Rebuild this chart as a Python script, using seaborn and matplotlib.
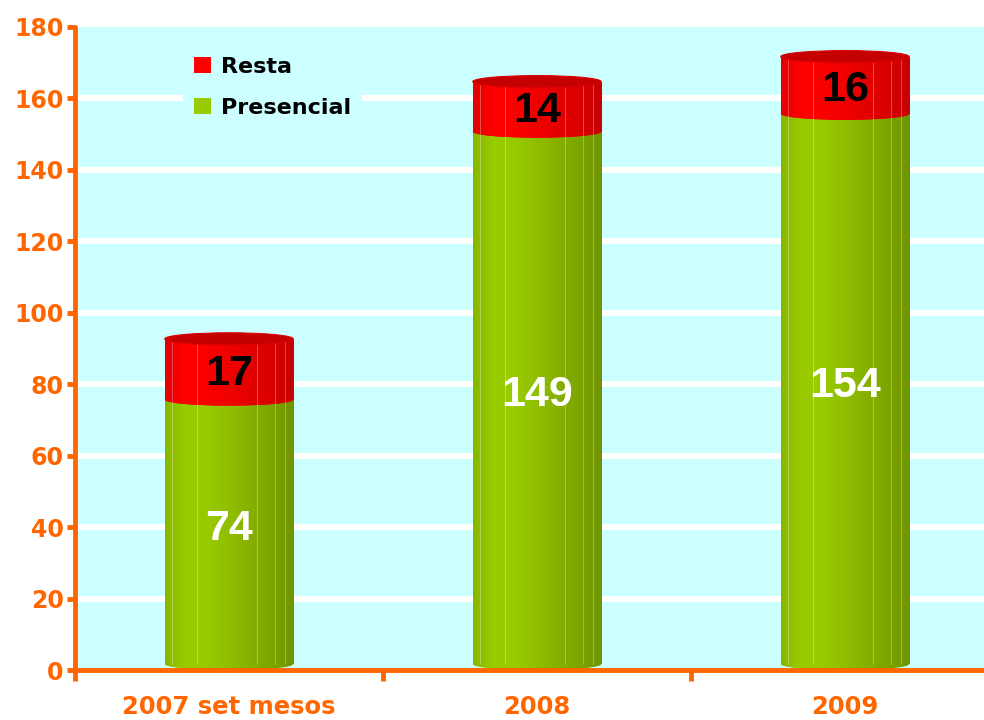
import numpy as np
import pandas as pd
import matplotlib
matplotlib.use("Agg")
import matplotlib.pyplot as plt
import seaborn as sns
from matplotlib.patches import Ellipse, Patch
from matplotlib.colors import LinearSegmentedColormap

categories = ["2007 set mesos", "2008", "2009"]
presencial = [74, 149, 154]
resta = [17, 14, 16]
yticks = [0, 20, 40, 60, 80, 100, 120, 140, 160, 180]

ORANGE = "#FF6600"
CYAN = "#CCFFFF"
GREEN = "#99CC00"
RED = "#FF0000"

sns.set_theme(style="white")
plt.rcParams['font.family'] = ['DejaVu Sans']
plt.rcParams['font.weight'] = 'bold'

df = pd.DataFrame({"cat": categories, "presencial": presencial, "resta": resta})
df["total"] = df["presencial"] + df["resta"]

fig = plt.figure(figsize=(9.84, 7.2), dpi=100)
ax = fig.add_axes([0.0762, 0.0694, 0.939, 0.8931])
ax.set_facecolor(CYAN)

W = 0.417
sns.barplot(data=df, x="cat", y="total", color=RED, width=W, ax=ax,
            saturation=1, edgecolor="none", zorder=3)
sns.barplot(data=df, x="cat", y="presencial", color=GREEN, width=W, ax=ax,
            saturation=1, edgecolor="none", zorder=3)

green_cmap = LinearSegmentedColormap.from_list(
    "g", ["#88B600", "#9ACD00", "#98CA00", "#8FBE00", "#86B000", "#7DA400", "#6F9400"])
red_cmap = LinearSegmentedColormap.from_list(
    "r", ["#E40000", "#FF0000", "#FA0000", "#F00000", "#E40000", "#D80000", "#C40000"])
grad = np.linspace(0, 1, 256).reshape(1, -1)

patches = list(ax.patches)
n = len(categories)
red_patches = patches[:n]
green_patches = patches[n:2 * n]
eh = 3.4          # ellipse height (data units), style of the 3-D cylinder
d = eh / 2        # 3-D depth offset
facets = [0.06, 0.25, 0.72, 0.86, 0.94]


def grad_fill(x0, w, y0, y1, cmap, clip, z):
    im = ax.imshow(grad, cmap=cmap, aspect="auto", extent=(x0, x0 + w, y0, y1), zorder=z)
    im.set_clip_path(clip)
    return im


for i in range(n):
    rp, gp = red_patches[i], green_patches[i]
    x0, w = rp.get_x(), rp.get_width()
    cx = x0 + w / 2
    top = rp.get_height()
    mid = gp.get_height()
    gp.set_y(d); gp.set_height(mid)
    rp.set_y(mid + d); rp.set_height(top - mid)
    grad_fill(x0, w, d, mid + d, green_cmap, gp, 3.5)
    grad_fill(x0, w, mid + d, top + d, red_cmap, rp, 3.5)
    eb = Ellipse((cx, d), w, eh, facecolor=GREEN, edgecolor="none", zorder=3.4)
    ax.add_patch(eb)
    grad_fill(x0, w, 0, eh, green_cmap, eb, 3.45)
    ell = Ellipse((cx, mid + d), w, eh, facecolor=RED, edgecolor="none", zorder=3.6)
    ax.add_patch(ell)
    grad_fill(x0, w, mid, mid + eh, red_cmap, ell, 3.7)
    for f in facets:
        ax.plot([x0 + f * w] * 2, [d, top + d], color="white", lw=0.6, alpha=0.35, zorder=3.8)
    ax.add_patch(Ellipse((cx, top + d), w, eh, facecolor="#C40000",
                         edgecolor="#DD0000", lw=0.8, zorder=3.9))
    ax.text(cx, mid / 2 + 2.5, str(presencial[i]), ha="center", va="center",
            color="white", fontsize=31, fontweight="bold", zorder=5,
            family="Liberation Sans")
    ax.text(cx, mid + resta[i] / 2 + 0.5, str(resta[i]), ha="center", va="center",
            color="black", fontsize=31, fontweight="bold", zorder=5,
            family="Liberation Sans")

ax.set_xlim(-0.5, 2.5)
ax.set_ylim(0, 180)
ax.set_yticks(yticks)
ax.set_yticklabels([str(v) for v in yticks])
for v in yticks[1:-1]:
    ax.axhline(v, color="white", lw=4.3, zorder=1)
ax.grid(False)

ax.set_xlabel("")
ax.set_ylabel("")
for s in ["top", "right"]:
    ax.spines[s].set_visible(False)
for s in ["left", "bottom"]:
    ax.spines[s].set_color(ORANGE)
    ax.spines[s].set_linewidth(3.5)
    ax.spines[s].set_zorder(6)
    ax.spines[s].set_capstyle("round")

ax.tick_params(axis="y", colors=ORANGE, labelsize=17, length=6, width=3.5,
               direction="out", left=True, pad=2)
ax.tick_params(axis="x", which="major", colors=ORANGE, labelsize=17.5, length=0, pad=18)
ax.set_xticks([-0.5, 0.5, 1.5], minor=True)
ax.tick_params(axis="x", which="minor", colors=ORANGE, length=8, width=3.5,
               direction="out", bottom=True)
for lab in ax.get_xticklabels() + ax.get_yticklabels():
    lab.set_fontweight("bold")
    lab.set_color(ORANGE)

handles = [Patch(facecolor=RED, edgecolor="none", label="Resta"),
           Patch(facecolor=GREEN, edgecolor="none", label="Presencial")]
leg = ax.legend(handles=handles, loc="upper left", bbox_to_anchor=(0.175, 0.952),
                bbox_transform=fig.transFigure, frameon=True, fontsize=16,
                handlelength=0.75, handleheight=0.75, handletextpad=0.45,
                labelspacing=0.95, borderpad=0.5)
leg.get_frame().set_facecolor(CYAN)
leg.get_frame().set_edgecolor("none")
leg.get_frame().set_alpha(1)
leg.set_zorder(7)
for t in leg.get_texts():
    t.set_fontweight("bold")
    t.set_color("black")

fig.savefig("out.png", dpi=100, facecolor="white")
